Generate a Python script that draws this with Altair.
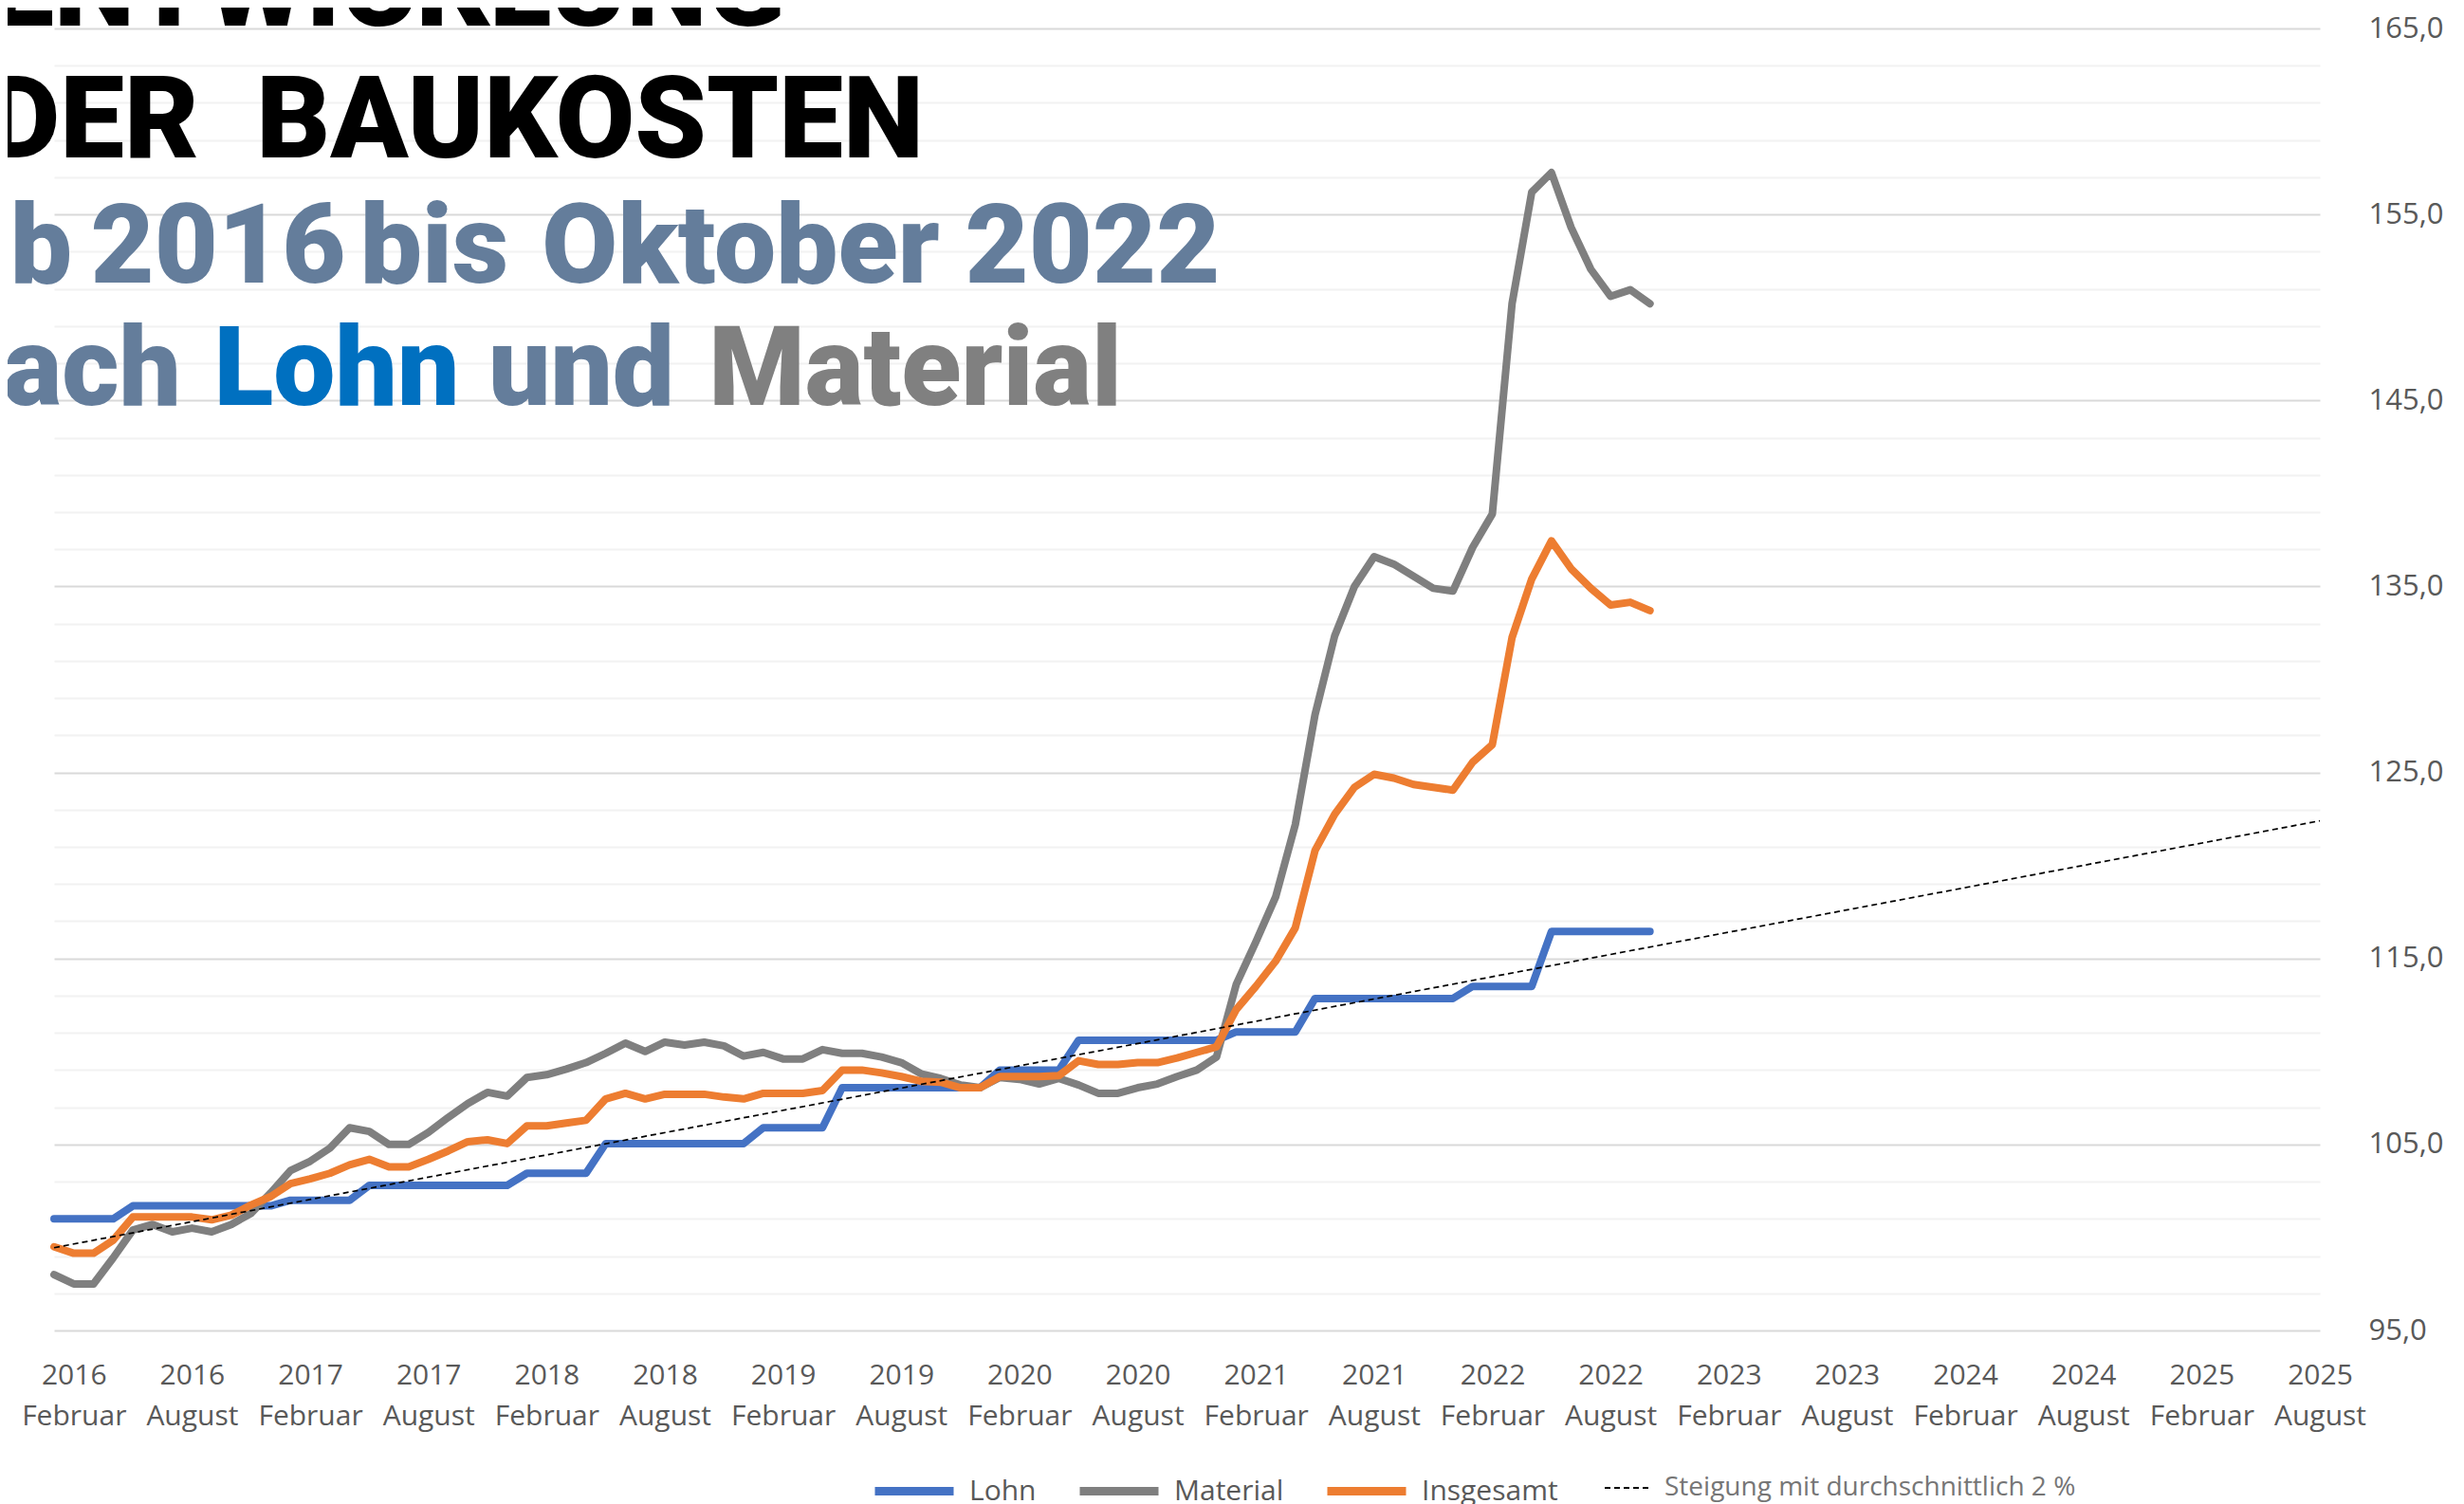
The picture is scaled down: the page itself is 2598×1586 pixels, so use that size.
import altair as alt
import pandas as pd

# ---------------- data ----------------
start_month = "2016-01"
end_month = "2022-10"
months = pd.period_range(start_month, end_month, freq="M").strftime("%Y-%m").tolist()

lohn = [101.0, 101.0, 101.0, 101.0, 101.7, 101.7, 101.7, 101.7, 101.7, 101.7, 101.7, 101.7,
        102.0, 102.0, 102.0, 102.0, 102.8, 102.8, 102.8, 102.8, 102.8, 102.8, 102.8, 102.8,
        103.45, 103.45, 103.45, 103.45, 105.05, 105.05, 105.05, 105.05, 105.05, 105.05, 105.05, 105.05,
        105.9, 105.9, 105.9, 105.9, 108.05, 108.05, 108.05, 108.05, 108.05, 108.05, 108.05, 108.05,
        109.0, 109.0, 109.0, 109.0, 110.6, 110.6, 110.6, 110.6, 110.6, 110.6, 110.6, 110.6,
        111.05, 111.05, 111.05, 111.05, 112.85, 112.85, 112.85, 112.85, 112.85, 112.85, 112.85, 112.85,
        113.5, 113.5, 113.5, 113.5, 116.45, 116.45, 116.45, 116.45, 116.45, 116.45]

material = [98.0, 97.5, 97.5, 98.9, 100.4, 100.7, 100.3, 100.5, 100.3, 100.7, 101.3, 102.4,
            103.6, 104.1, 104.8, 105.9, 105.7, 105.0, 105.0, 105.65, 106.45, 107.2, 107.8, 107.6,
            108.6, 108.75, 109.05, 109.4, 109.9, 110.45, 110.0, 110.5, 110.35, 110.5, 110.3, 109.75,
            109.95, 109.6, 109.6, 110.1, 109.9, 109.9, 109.7, 109.4, 108.8, 108.55, 108.2, 108.05,
            108.6, 108.5, 108.25, 108.55, 108.2, 107.75, 107.75, 108.05, 108.25, 108.65, 109.0, 109.7,
            113.6, 115.9, 118.3, 122.2, 128.1, 132.35, 135.0, 136.6, 136.2, 135.55, 134.9, 134.75,
            137.1, 138.9, 150.2, 156.2, 157.25, 154.3, 152.05, 150.6, 150.95, 150.2]

insgesamt = [99.5, 99.15, 99.15, 99.85, 101.1, 101.1, 101.1, 101.1, 100.95, 101.2, 101.75, 102.2,
             102.9, 103.15, 103.45, 103.9, 104.2, 103.8, 103.8, 104.2, 104.65, 105.15, 105.25, 105.05,
             106.0, 106.0, 106.15, 106.3, 107.45, 107.75, 107.45, 107.7, 107.7, 107.7, 107.55, 107.45,
             107.75, 107.75, 107.75, 107.9, 109.0, 109.0, 108.85, 108.65, 108.4, 108.35, 108.05, 108.05,
             108.65, 108.65, 108.65, 108.7, 109.5, 109.3, 109.3, 109.4, 109.4, 109.65, 109.95, 110.25,
             112.25, 113.5, 114.85, 116.65, 120.8, 122.75, 124.2, 124.9, 124.7, 124.35, 124.2, 124.05,
             125.55, 126.5, 132.25, 135.4, 137.45, 135.95, 134.9, 134.0, 134.15, 133.7]

trend_months = ["2016-01", "2025-08"]
trend_values = [99.45, 122.4]

series_names = ["Lohn", "Material", "Insgesamt"]
series_colors = ["#4472C4", "#7F7F7F", "#ED7D31"]
trend_name = "Steigung mit durchschnittlich 2 %"

x_tick_months = ["2016-02", "2016-08", "2017-02", "2017-08", "2018-02", "2018-08", "2019-02",
                 "2019-08", "2020-02", "2020-08", "2021-02", "2021-08", "2022-02", "2022-08",
                 "2023-02", "2023-08", "2024-02", "2024-08", "2025-02", "2025-08"]
y_ticks = list(range(95, 166, 2))
y_domain = [95, 165]

title_lines = ["ENTWICKLUNG", "DER\u00a0\u00a0BAUKOSTEN"]
subtitle_words = ["ab", "2016", "bis", "Oktober", "2022"]
title_words = ["nach", "Lohn", "und", "Material"]

# ---------------- helpers ----------------
base_year = int(start_month[:4])


def month_index(s):
    y, m = s.split("-")
    return (int(y) - base_year) * 12 + int(m) - 1


rows = []
for name, vals in zip(series_names, [lohn, material, insgesamt]):
    for mo, v in zip(months, vals):
        rows.append({"month": mo, "idx": month_index(mo), "series": name, "value": v})
df = pd.DataFrame(rows)

trend_df = pd.DataFrame({
    "idx": [month_index(m) for m in trend_months],
    "value": trend_values,
    "name": [trend_name] * len(trend_months),
})

x_ticks = [month_index(m) for m in x_tick_months]
x_domain = [0, month_index(x_tick_months[-1])]

FONT = "Open Sans"
LABEL_COLOR = "#595959"
LINE_W = 8

x_enc = alt.X(
    "idx:Q",
    scale=alt.Scale(domain=x_domain, nice=False, zero=False),
    axis=alt.Axis(
        values=x_ticks,
        labelExpr=f"[toString({base_year} + floor(datum.value / 12)), datum.value % 12 == 1 ? 'Februar' : 'August']",
        labelFont=FONT, labelFontSize=30, labelColor=LABEL_COLOR,
        labelPadding=32, labelLineHeight=43, labelBaseline="top",
        labelFlush=False, labelOverlap=False, labelBound=False,
        domain=False, ticks=False, tickSize=0, grid=False, title=None,
    ),
)

y_enc = alt.Y(
    "value:Q",
    scale=alt.Scale(domain=y_domain, nice=False, zero=False),
    axis=alt.Axis(
        orient="right",
        values=y_ticks,
        labelExpr="datum.value % 10 == 5 ? replace(format(datum.value, '.1f'), '.', ',') : ''",
        labelFont=FONT, labelFontSize=31, labelColor=LABEL_COLOR, labelPadding=51,
        labelAlign="left",
        gridColor={"condition": {"test": "datum.value % 10 == 5", "value": "#D9D9D9"}, "value": "#F2F2F2"},
        gridWidth=2,
        domain=False, ticks=False, tickSize=0, title=None,
    ),
)

color_enc = alt.Color(
    "series:N",
    scale=alt.Scale(domain=series_names, range=series_colors),
    legend=alt.Legend(
        orient="none", legendX=861, legendY=1496.5, direction="horizontal",
        symbolType="stroke", symbolSize=83 * 83, symbolStrokeWidth=9,
        labelFont=FONT, labelFontSize=30, labelColor=LABEL_COLOR, labelLimit=0,
        labelOffset=12, columnPadding=27, title=None, padding=0,
    ),
)

line_layers = []
for name in series_names:
    line_layers.append(
        alt.Chart(df).transform_filter(alt.datum.series == name)
        .mark_line(strokeWidth=LINE_W, strokeJoin="round", strokeCap="round")
        .encode(x=x_enc, y=y_enc, color=color_enc, order="idx:Q")
    )

trend_layer = alt.Chart(trend_df).mark_line(strokeWidth=1.7, color="black").encode(
    x=x_enc, y=y_enc,
    strokeDash=alt.StrokeDash(
        "name:N",
        scale=alt.Scale(domain=[trend_name], range=[[6, 4]]),
        legend=alt.Legend(
            orient="none", legendX=1634, legendY=1513, direction="horizontal",
            symbolType="stroke", symbolSize=50 * 50, symbolStrokeColor="black",
            symbolStrokeWidth=2, labelFont=FONT, labelFontSize=28, labelColor="#767676",
            labelLimit=0, labelOffset=12, title=None, padding=0,
        ),
    ),
)

TITLE_FONT = "Roboto"


def title_text(text, px, py, size, color, align="right"):
    return alt.Chart(pd.DataFrame({"t": [text]})).mark_text(
        font=TITLE_FONT, fontWeight=900, fontSize=size, color=color,
        align=align, baseline="alphabetic",
    ).encode(text="t:N", x=alt.value(px), y=alt.value(py))


SLATE = "#647D9B"
text_layers = [
    title_text(title_lines[0], 771, -3, 121, "#000000"),
    title_text(title_lines[1], 917, 136, 121, "#000000"),
    title_text(subtitle_words[0], 19, 268, 116, SLATE),
    title_text(subtitle_words[1], 173, 268, 116, SLATE, "center"),
    title_text(subtitle_words[2], 401, 268, 116, SLATE, "center"),
    title_text(subtitle_words[3], 724, 268, 116, SLATE, "center"),
    title_text(subtitle_words[4], 1095, 268, 116, SLATE, "center"),
    title_text(title_words[0], 134, 397, 116, SLATE),
    title_text(title_words[1], 298, 397, 116, "#0070C0", "center"),
    title_text(title_words[2], 556, 397, 116, SLATE, "center"),
    title_text(title_words[3], 908, 397, 116, "#808080", "center"),
]

chart = alt.layer(*line_layers, trend_layer, *text_layers).properties(
    width=2389,
    height=1373,
    autosize=alt.AutoSizeParams(type="none"),
    padding={"left": 49, "top": 22, "right": 134, "bottom": 183},
    background="white",
).configure_view(stroke=None)

chart.save("out.html", embed_options={"renderer": "svg", "actions": False})
